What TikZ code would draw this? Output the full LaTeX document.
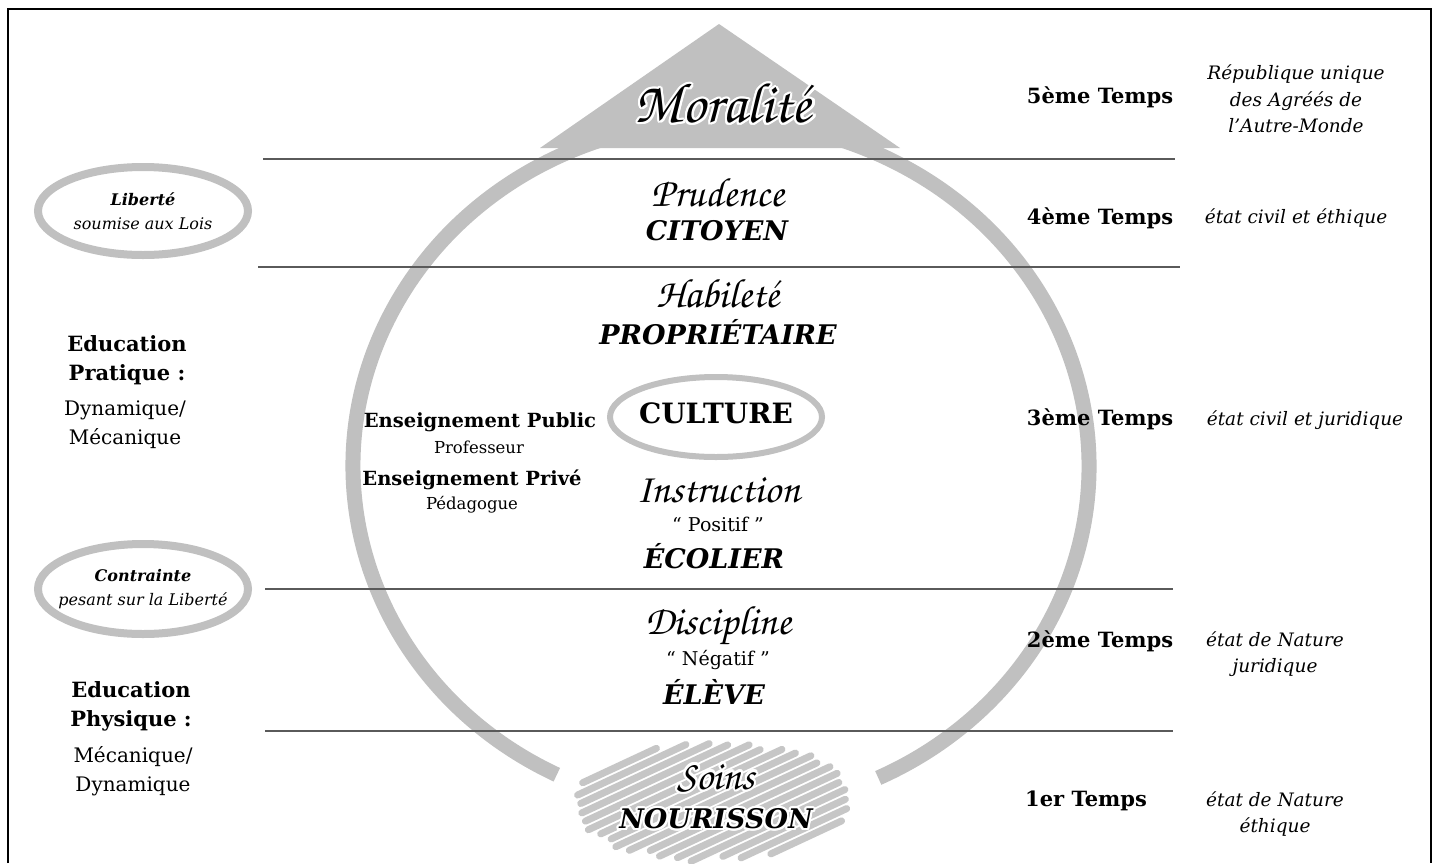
\documentclass[tikz,border=0pt]{standalone}
\usepackage[T1]{fontenc}
\usepackage{fontspec}
\setmainfont{DejaVu Serif}
\usepackage[copies]{contour}
\contourlength{2.2pt}
\usetikzlibrary{shapes.geometric}
\newcommand\scriptf{\fontencoding{T1}\fontfamily{pzc}\fontseries{mb}\fontshape{it}\selectfont}
\definecolor{ringgray}{HTML}{C0C0C0}
\definecolor{linegray}{HTML}{5A5A5A}
\definecolor{scribgray}{HTML}{C6C6C6}
\begin{document}
\begin{tikzpicture}[x=1pt,y=-1pt,
  hline/.style={draw=linegray, line width=2},
  frame/.style={draw=black, line width=2.6},
  temps/.style={font=\fontsize{21}{25}\selectfont\bfseries},
  etat/.style={font=\fontsize{18.5}{26.5}\selectfont\itshape, align=center},
  edu/.style={font=\fontsize{21}{29}\selectfont\bfseries, align=center},
  mode/.style={font=\fontsize{20}{29}\selectfont, align=center},
  role/.style={font=\fontsize{27}{30}\selectfont\bfseries\itshape},
  virtue/.style={font=\scriptf\fontsize{41}{44}\selectfont},
  ens/.style={font=\fontsize{19.5}{23}\selectfont\bfseries},
  ensub/.style={font=\fontsize{16.5}{20}\selectfont},
  quot/.style={font=\fontsize{19}{22}\selectfont},
  ovalring/.style={draw=ringgray, line width=8},
  ovaltext/.style={align=center, inner sep=0, font=\fontsize{16}{24}\selectfont},
  scribble/.style={draw=scribgray, line width=7, line cap=round}
]
\useasboundingbox (0,0) rectangle (1440,863);
\fill[white] (0,0) rectangle (1440,863);
% frame
\draw[frame] (8,863) -- (8,9) -- (1431,9) -- (1431,863);
% big ring
\draw[ringgray, line width=15] (721,466) ++(116.5:368 and 345) arc[start angle=116.5, end angle=424.7, x radius=368, y radius=345];
% roof
\fill[ringgray] (540,148) -- (719,24) -- (900,148) -- cycle;
% scribble
\pgfmathsetseed{11}
\foreach \d in {-0.72,-0.63,...,0.73}{
  \pgfmathsetmacro\disc{max(4.0808-6.9995*\d*\d,0)}
  \pgfmathsetmacro\ta{(2.0222*\d - sqrt(\disc))/2.0404 - 0.14*rnd}
  \pgfmathsetmacro\tb{(2.0222*\d + sqrt(\disc))/2.0404 + 0.14*rnd - 0.07}
  \draw[scribble] ({716+100*(0.4226*\d+0.9063*\ta)},{800+100*(0.9063*\d-0.4226*\ta)}) -- ({716+100*(0.4226*\d+0.9063*\tb)},{800+100*(0.9063*\d-0.4226*\tb)});
}
% horizontal lines
\draw[hline] (263,159) -- (1175,159);
\draw[hline] (258,266.5) -- (1180,266.5);
\draw[hline] (265,589) -- (1173,589);
\draw[hline] (265,731) -- (1173,731);
% ovals
\draw[ovalring] (143,211) ellipse [x radius=105, y radius=44];
\node[ovaltext] (lib) at (143,211) {\textbf{\textit{Liberté}}\\\textit{soumise aux Lois}};
\draw[ovalring] (143,589) ellipse [x radius=105, y radius=45];
\node[ovaltext] (con) at (143,589) {\textbf{\textit{Contrainte}}\\\textit{pesant sur la Liberté}};
\draw[ringgray, line width=6] (716,417) ellipse [x radius=106, y radius=40];
\node[font=\fontsize{28}{30}\selectfont\bfseries] (cul) at (716,413) {CULTURE};
% center column
\node[font=\scriptf\fontsize{57}{60}\selectfont] (mor) at (723,104) {\contour{white}{Moralité}};
\node[virtue] (pru) at (718,192) {Prudence};
\node[role] (cit) at (717,231) {CITOYEN};
\node[virtue] (hab) at (718,293) {Habileté};
\node[role] (pro) at (718,332) {PROPRIÉTAIRE};
\node[virtue] (ins) at (718,490) {Instruction};
\node[quot] (pos) at (718,524) {“ Positif ”};
\node[role] (eco) at (714,556) {ÉCOLIER};
\node[virtue] (dis) at (718,626) {Discipline};
\node[quot] (neg) at (718,660) {“ Négatif ”};
\node[role] (ele) at (714,692) {ÉLÈVE};
\node[virtue] (soi) at (716,779) {\contour{white}{Soins}};
\node[role] (nou) at (716,820) {\contour{white}{NOURISSON}};
% teaching
\node[ens] (epu) at (480,422) {Enseignement Public};
\node[ensub] (prof) at (479,447) {Professeur};
\node[ens] (epr) at (472,480) {Enseignement Privé};
\node[ensub] (ped) at (472,505) {Pédagogue};
% left column
\node[edu] (edp) at (127,360) {Education\\Pratique :};
\node[mode] (mp) at (125,425) {Dynamique/\\Mécanique};
\node[edu] (edf) at (131,706) {Education\\Physique :};
\node[mode] (mf) at (133,771) {Mécanique/\\Dynamique};
% temps
\node[temps] (t5) at (1100,97) {5ème Temps};
\node[temps] (t4) at (1100,218) {4ème Temps};
\node[temps] (t3) at (1100,419) {3ème Temps};
\node[temps] (t2) at (1100,641) {2ème Temps};
\node[temps] (t1) at (1086,801) {1er Temps};
% right column
\node[etat] (e5) at (1296,99) {République unique\\des Agréés de\\l’Autre-Monde};
\node[etat] (e4) at (1296,218) {état civil et éthique};
\node[etat] (e3) at (1305,420) {état civil et juridique};
\node[etat] (e2) at (1275,654) {état de Nature\\juridique};
\node[etat] (e1) at (1275,814) {état de Nature\\éthique};
\end{tikzpicture}
\end{document}
